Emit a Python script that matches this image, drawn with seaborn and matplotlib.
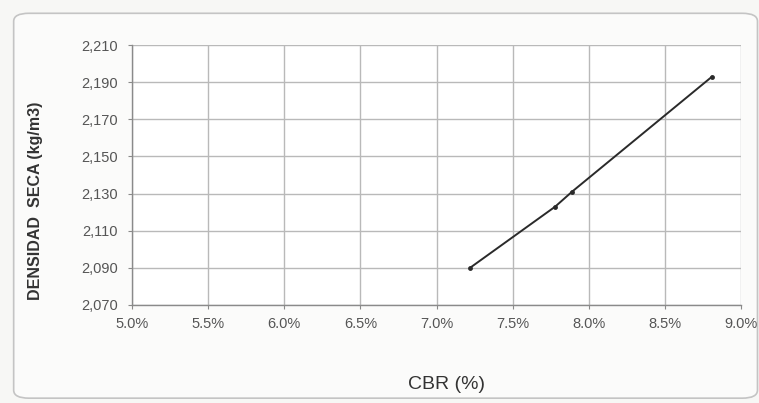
import matplotlib
matplotlib.use("Agg")
import matplotlib.pyplot as plt
from matplotlib.patches import FancyBboxPatch
from matplotlib.ticker import FuncFormatter
import seaborn as sns
import pandas as pd

# CBR test results: dry density vs CBR
cbr_pct = [7.22, 7.78, 7.89, 8.81]
densidad = [2090, 2123, 2131, 2193]

x_ticks = [5.0, 5.5, 6.0, 6.5, 7.0, 7.5, 8.0, 8.5, 9.0]
y_ticks = [2070, 2090, 2110, 2130, 2150, 2170, 2190, 2210]

df = pd.DataFrame({"cbr": cbr_pct, "densidad": densidad})

sns.set_theme(style="white")
plt.rcParams["font.family"] = ["Liberation Sans", "DejaVu Sans"]

fig = plt.figure(figsize=(7.59, 4.03), dpi=100)
fig.patch.set_facecolor("#f7f7f5")

# rounded chart frame, kept behind the plot area
frame = FancyBboxPatch((0.018, 0.012), 0.98, 0.955,
                       boxstyle="round,pad=0,rounding_size=0.02",
                       transform=fig.transFigure, facecolor="#fbfbfa",
                       edgecolor="#c4c4c4", linewidth=1.2, zorder=-10)
fig.patches.append(frame)

ax = fig.add_axes([0.1739, 0.2432, 0.8024, 0.6451])
ax.set_zorder(1)
ax.set_facecolor("white")

sns.lineplot(data=df, x="cbr", y="densidad", ax=ax, color="#2a2a2a",
             linewidth=1.4, marker="o", markersize=3.5, markeredgewidth=0,
             zorder=3)

ax.set_xlim(x_ticks[0], x_ticks[-1])
ax.set_ylim(y_ticks[0], y_ticks[-1])
ax.set_xticks(x_ticks)
ax.set_yticks(y_ticks)
ax.xaxis.set_major_formatter(FuncFormatter(lambda v, p: f"{v:.1f}%"))
ax.yaxis.set_major_formatter(FuncFormatter(lambda v, p: f"{int(v):,}"))

ax.grid(True, color="#b9b9b9", linewidth=1.0)
ax.set_axisbelow(True)
for side in ["top", "right"]:
    ax.spines[side].set_visible(False)
for side in ["left", "bottom"]:
    ax.spines[side].set_color("#8a8a8a")
    ax.spines[side].set_linewidth(1.0)

ax.tick_params(axis="both", labelsize=10.5, colors="#8a8a8a", length=3,
               width=0.8, direction="out", bottom=True, left=True)
ax.tick_params(axis="y", pad=7)
ax.tick_params(axis="x", pad=6)
for lbl in ax.get_xticklabels() + ax.get_yticklabels():
    lbl.set_color("#555555")

ax.set_xlabel("CBR (%)", fontsize=14, color="#333333")
ax.xaxis.set_label_coords(0.5156, -0.305)
ax.xaxis.label.set_va("center")

ax.set_ylabel("DENSIDAD  SECA (kg/m3)", fontsize=11.5, fontweight="bold",
              color="#333333")
ax.yaxis.set_label_coords(-0.159, 0.40)
ax.yaxis.label.set_va("center")

fig.savefig("out.png", dpi=100)
